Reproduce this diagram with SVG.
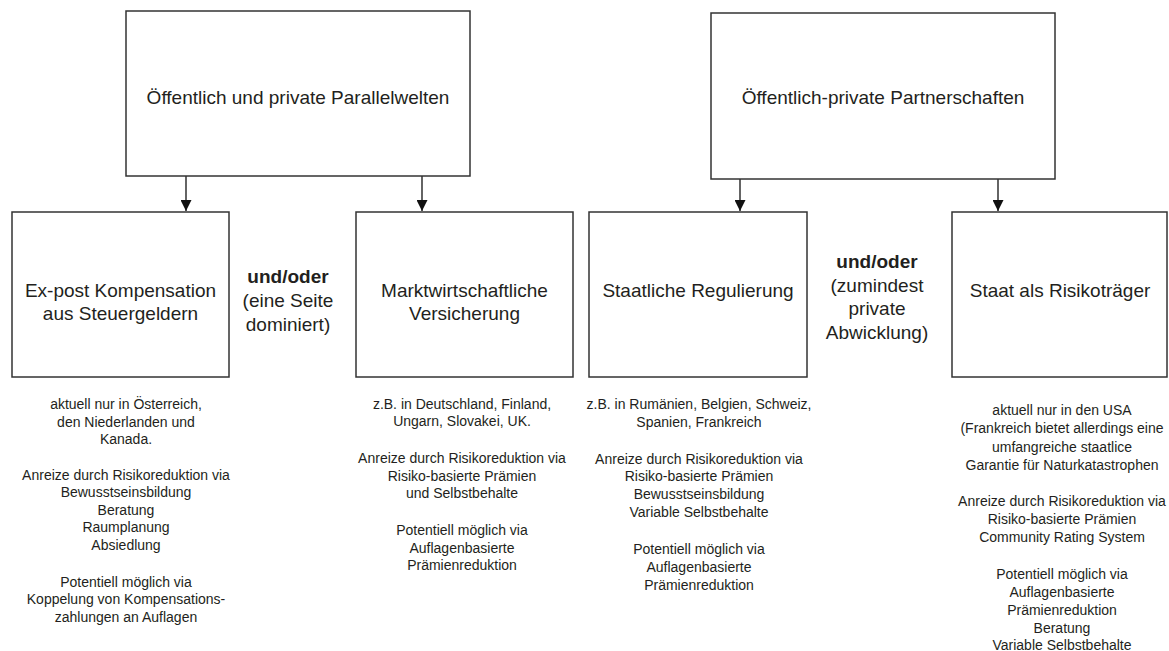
<svg xmlns="http://www.w3.org/2000/svg" width="1169" height="651" viewBox="0 0 1169 651">
<defs>
<marker id="arr" viewBox="0 0 10 10" refX="10" refY="5" markerWidth="11" markerHeight="11" markerUnits="userSpaceOnUse" orient="auto">
<path d="M0,0 L10,5 L0,10 z" fill="#111"/>
</marker>
</defs>
<style>
.box{fill:#fff;stroke:#333;stroke-width:1.5}
.t{font-family:"Liberation Sans",Arial,sans-serif;font-size:19px;fill:#231f20;text-anchor:middle}
.b{font-weight:bold}
.s{font-family:"Liberation Sans",Arial,sans-serif;font-size:14px;fill:#231f20;text-anchor:middle}
.c{stroke:#111;stroke-width:1.3;fill:none;marker-end:url(#arr)}
</style>
<rect width="1169" height="651" fill="#fff"/>
<g id="connectors">
<line class="c" x1="186" y1="176" x2="186" y2="211"/>
<line class="c" x1="422" y1="176" x2="422" y2="211"/>
<line class="c" x1="740" y1="179" x2="740" y2="211"/>
<line class="c" x1="998" y1="179" x2="998" y2="211"/>
</g>
<g id="parallelwelten">
<rect class="box" x="126" y="11" width="344" height="165"/>
<text class="t" x="298" y="104">Öffentlich und private Parallelwelten</text>
</g>
<g id="partnerschaften">
<rect class="box" x="711" y="13" width="344" height="166"/>
<text class="t" x="883" y="104">Öffentlich-private Partnerschaften</text>
</g>
<g id="kompensation">
<rect class="box" x="12" y="212" width="217" height="165"/>
<text class="t" x="120.5" y="297">Ex-post Kompensation</text>
<text class="t" x="120.5" y="320">aus Steuergeldern</text>
</g>
<g id="versicherung">
<rect class="box" x="356" y="212" width="217" height="165"/>
<text class="t" x="464.5" y="297">Marktwirtschaftliche</text>
<text class="t" x="464.5" y="320">Versicherung</text>
</g>
<g id="regulierung">
<rect class="box" x="589" y="212" width="218" height="165"/>
<text class="t" x="698" y="297">Staatliche Regulierung</text>
</g>
<g id="risikotraeger">
<rect class="box" x="952" y="212" width="215" height="165"/>
<text class="t" x="1060" y="297">Staat als Risikoträger</text>
</g>
<g id="undoder1">
<text class="t b" x="288" y="283">und/oder</text>
<text class="t" x="288" y="307">(eine Seite</text>
<text class="t" x="288" y="331">dominiert)</text>
</g>
<g id="undoder2">
<text class="t b" x="877" y="268">und/oder</text>
<text class="t" x="877" y="292">(zumindest</text>
<text class="t" x="877" y="315">private</text>
<text class="t" x="877" y="339">Abwicklung)</text>
</g>
<g id="notesA">
<text class="s" x="126" y="409">aktuell nur in Österreich,</text>
<text class="s" x="126" y="426.5">den Niederlanden und</text>
<text class="s" x="126" y="444">Kanada.</text>
<text class="s" x="126" y="479.5">Anreize durch Risikoreduktion via</text>
<text class="s" x="126" y="497">Bewusstseinsbildung</text>
<text class="s" x="126" y="514.5">Beratung</text>
<text class="s" x="126" y="532">Raumplanung</text>
<text class="s" x="126" y="549.5">Absiedlung</text>
<text class="s" x="126" y="586.5">Potentiell möglich via</text>
<text class="s" x="126" y="604">Koppelung von Kompensations-</text>
<text class="s" x="126" y="621.5">zahlungen an Auflagen</text>
</g>
<g id="notesB">
<text class="s" x="462" y="408.5">z.B. in Deutschland, Finland,</text>
<text class="s" x="462" y="426">Ungarn, Slovakei, UK.</text>
<text class="s" x="462" y="463">Anreize durch Risikoreduktion via</text>
<text class="s" x="462" y="480.5">Risiko-basierte Prämien</text>
<text class="s" x="462" y="498">und Selbstbehalte</text>
<text class="s" x="462" y="535">Potentiell möglich via</text>
<text class="s" x="462" y="552.5">Auflagenbasierte</text>
<text class="s" x="462" y="570">Prämienreduktion</text>
</g>
<g id="notesC">
<text class="s" x="699" y="409">z.B. in Rumänien, Belgien, Schweiz,</text>
<text class="s" x="699" y="426.5">Spanien, Frankreich</text>
<text class="s" x="699" y="463.5">Anreize durch Risikoreduktion via</text>
<text class="s" x="699" y="481">Risiko-basierte Prämien</text>
<text class="s" x="699" y="499">Bewusstseinsbildung</text>
<text class="s" x="699" y="517">Variable Selbstbehalte</text>
<text class="s" x="699" y="554">Potentiell möglich via</text>
<text class="s" x="699" y="572">Auflagenbasierte</text>
<text class="s" x="699" y="590">Prämienreduktion</text>
</g>
<g id="notesD">
<text class="s" x="1062" y="415">aktuell nur in den USA</text>
<text class="s" x="1062" y="433">(Frankreich bietet allerdings eine</text>
<text class="s" x="1062" y="451.5">umfangreiche staatlice</text>
<text class="s" x="1062" y="469.5">Garantie für Naturkatastrophen</text>
<text class="s" x="1062" y="506">Anreize durch Risikoreduktion via</text>
<text class="s" x="1062" y="524">Risiko-basierte Prämien</text>
<text class="s" x="1062" y="542">Community Rating System</text>
<text class="s" x="1062" y="579">Potentiell möglich via</text>
<text class="s" x="1062" y="597">Auflagenbasierte</text>
<text class="s" x="1062" y="615">Prämienreduktion</text>
<text class="s" x="1062" y="632.5">Beratung</text>
<text class="s" x="1062" y="650">Variable Selbstbehalte</text>
</g>
</svg>
